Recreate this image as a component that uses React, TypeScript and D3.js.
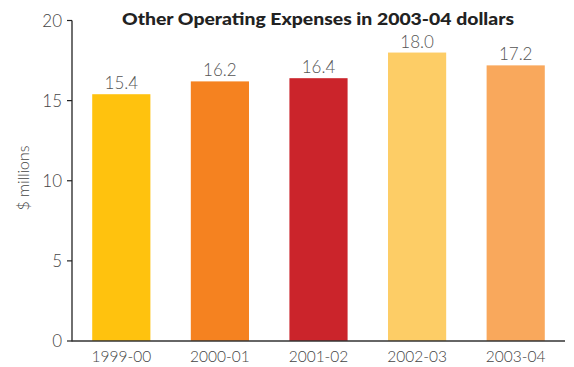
import React from "react";
import * as d3 from "d3";

const categories = ["1999-00", "2000-01", "2001-02", "2002-03", "2003-04"];
const values = [15.4, 16.2, 16.4, 18.0, 17.2];
const colors = ["#FFC20E", "#F58220", "#CB242B", "#FDCD66", "#F9A85C"];
const yTicks = [0, 5, 10, 15, 20];
const title = "Other Operating Expenses in 2003-04 dollars";
const yLabel = "$ millions";

const W = 574;
const H = 367;
const left = 72;
const right = 565;
const top = 20.5;
const bottom = 341;
const font = "Lato, 'DejaVu Sans', sans-serif";

export default function App() {
  const x = d3.scaleBand<string>().domain(categories).range([left, right]).paddingInner(0.41).paddingOuter(0.205);
  const y = d3.scaleLinear().domain([0, 20]).range([bottom, top]);
  return (
    <svg width={W} height={H} style={{ position: "absolute", left: 0, top: 0 }}>
      <rect width={W} height={H} fill="#fff" />
      <text x={318} y={25} textAnchor="middle" fontFamily={font} fontWeight={900} fontSize={16.5} fill="#222" textLength={392} lengthAdjust="spacingAndGlyphs">{title}</text>
      {categories.map((c, i) => (
        <g key={c}>
          <rect x={x(c)} y={y(values[i])} width={x.bandwidth()} height={bottom - y(values[i])} fill={colors[i]} />
          <text x={(x(c) as number) + x.bandwidth() / 2} y={y(values[i]) - 5} textAnchor="middle" fontFamily={font} fontWeight={300} fontSize={17} fill="#555">{values[i].toFixed(1)}</text>
          <text x={(x(c) as number) + x.bandwidth() / 2} y={362} textAnchor="middle" fontFamily={font} fontWeight={300} fontSize={15.5} fill="#444">{c}</text>
        </g>
      ))}
      {yTicks.map((t) => (
        <g key={t}>
          <line x1={67} x2={left} y1={y(t)} y2={y(t)} stroke="#222" strokeWidth={1.2} />
          <text x={62} y={y(t) + 6} textAnchor="end" fontFamily={font} fontWeight={300} fontSize={17} fill="#444">{t}</text>
        </g>
      ))}
      <line x1={left} x2={left} y1={top} y2={bottom + 0.5} stroke="#222" strokeWidth={1.3} />
      <line x1={left} x2={right} y1={bottom} y2={bottom} stroke="#333" strokeWidth={1.3} />
      <text transform={`translate(29,178) rotate(-90)`} textAnchor="middle" fontFamily={font} fontWeight={300} fontSize={16} fill="#444">{yLabel}</text>
    </svg>
  );
}
